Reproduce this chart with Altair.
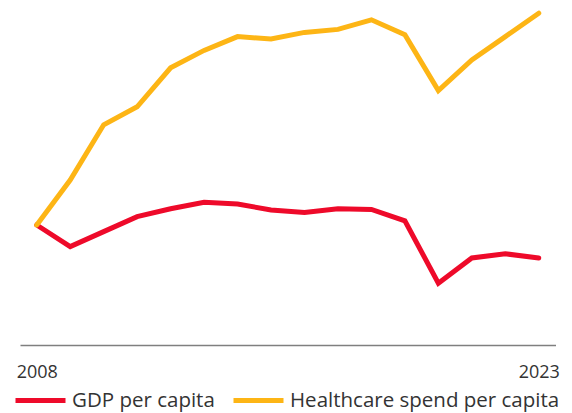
import altair as alt
import pandas as pd

years = list(range(2008, 2024))
gdp = [100.0, 96.4, 98.9, 101.4, 102.7, 103.8, 103.5, 102.5, 102.1, 102.7, 102.6, 100.7, 90.3, 94.5, 95.2, 94.5]
health = [100.0, 107.5, 116.7, 119.7, 126.2, 129.1, 131.4, 131.0, 132.1, 132.6, 134.2, 131.7, 122.4, 127.5, 131.4, 135.3]
series = ["GDP per capita", "Healthcare spend per capita"]
colors = ["#EE0A2A", "#FDB515"]
tick_years = [2008, 2023]

rows = []
for y, v in zip(years, gdp):
    rows.append({"year": y, "value": v, "series": series[0], "order": 0})
for y, v in zip(years, health):
    rows.append({"year": y, "value": v, "series": series[1], "order": 1})
df = pd.DataFrame(rows)

FONT = "Open Sans"

chart = (
    alt.Chart(df)
    .mark_line(strokeWidth=5, strokeCap="round")
    .encode(
        x=alt.X(
            "year:Q",
            scale=alt.Scale(domain=[2007.5, 2023.5], nice=False, zero=False),
            axis=alt.Axis(
                values=tick_years,
                format="d",
                title=None,
                grid=False,
                ticks=False,
                labelFontSize=18,
                labelFont=FONT,
                labelColor="#333333",
                labelPadding=18,
                domainColor="#7f7f7f",
                domainWidth=1.5,
            ),
        ),
        y=alt.Y(
            "value:Q",
            scale=alt.Scale(domain=[80, 136], nice=False, zero=False),
            axis=None,
        ),
        color=alt.Color(
            "series:N",
            scale=alt.Scale(domain=series, range=colors),
            legend=alt.Legend(
                title=None,
                orient="none",
                direction="horizontal",
                legendX=-7,
                legendY=364,
                symbolType="stroke",
                symbolSize=2500,
                symbolStrokeWidth=5,
                labelFontSize=20.5,
                labelFont=FONT,
                labelColor="#333333",
                labelOffset=4,
                columnPadding=8,
                padding=0,
                labelLimit=400,
            ),
        ),
        order=alt.Order("order:Q"),
    )
    .properties(
        width=535.5,
        height=336,
        autosize=alt.AutoSizeParams(type="none"),
        padding={"left": 12, "top": 1, "right": 8.5, "bottom": 73},
    )
    .configure_view(stroke=None)
)

chart.save("out.html", embed_options={"renderer": "svg", "actions": False})
